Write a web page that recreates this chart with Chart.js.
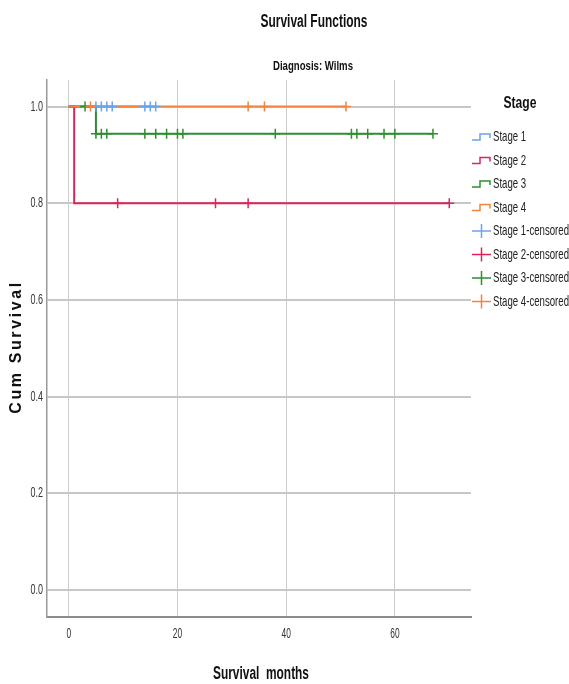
<!DOCTYPE html>
<html>
<head>
    <title>Survival Functions</title>
    <style>
        html, body { margin: 0; padding: 0; background: #ffffff; }
        #wrap { width: 569px; height: 684px; position: relative; }
    </style>
</head>
<body>
<div id="wrap">
    <canvas id="kmChart"></canvas>
</div>
<script src="https://cdn.jsdelivr.net/npm/chart.js"></script>
<script>
    // Kaplan-Meier steps (months, cumulative survival)
    const stageLabels = ["Stage 1", "Stage 2", "Stage 3", "Stage 4"];
    const stage1Times = [0, 16];
    const stage1Surv = [1, 1];
    const stage2Times = [0, 1, 70];
    const stage2Surv = [1, 0.8, 0.8];
    const stage3Times = [0, 5, 67];
    const stage3Surv = [1, 0.944, 0.944];
    const stage4Times = [0, 51];
    const stage4Surv = [1, 1];

    // censored cases (months)
    const stage1Censored = [5, 6, 7, 8, 14, 15, 16];
    const stage2Censored = [9, 27, 33, 70];
    const stage3Censored = [3, 5, 6, 7, 14, 16, 18, 20, 21, 38, 52, 53, 55, 58, 60, 67];
    const stage4Censored = [4, 33, 36, 51];

    const xTicks = [0, 20, 40, 60];
    const yTicks = [0, 0.2, 0.4, 0.6, 0.8, 1.0];

    const stageColors = ['#6aa3ee', '#e0245a', '#2f8f2f', '#f5823f'];
    const sans = '"Liberation Sans", Arial, sans-serif';

    function toPoints(times, surv) {
        return times.map((t, i) => ({x: t, y: surv[i]}));
    }

    // value of the step curve at time t
    function survAt(times, surv, t) {
        let v = surv[0];
        for (let i = 0; i < times.length; i++) {
            if (times[i] <= t) v = surv[i];
        }
        return v;
    }

    function censoredPoints(cens, times, surv) {
        return cens.map(t => ({x: t, y: survAt(times, surv, t)}));
    }

    const allTimes = [stage1Times, stage2Times, stage3Times, stage4Times];
    const allSurv = [stage1Surv, stage2Surv, stage3Surv, stage4Surv];
    const allCens = [stage1Censored, stage2Censored, stage3Censored, stage4Censored];
    // drawing order: lower numbers end up on top
    const lineOrder = [8, 7, 6, 5];
    const censOrder = [4, 3, 2, 1];

    const datasets = [];
    for (let i = 0; i < 4; i++) {
        datasets.push({
            label: stageLabels[i],
            censored: false,
            data: toPoints(allTimes[i], allSurv[i]),
            showLine: true,
            stepped: 'before',
            borderColor: stageColors[i],
            borderWidth: 2,
            pointRadius: 0,
            order: lineOrder[i]
        });
    }
    for (let i = 0; i < 4; i++) {
        datasets.push({
            label: stageLabels[i] + '-censored',
            censored: true,
            data: censoredPoints(allCens[i], allTimes[i], allSurv[i]),
            showLine: false,
            pointStyle: 'cross',
            pointRadius: 5,
            borderColor: stageColors[i],
            borderWidth: 1.5,
            order: censOrder[i]
        });
    }

    // no narrow font is installed, so squeeze text horizontally
    function squeezed(ctx, text, x, y, font, sx, align) {
        ctx.save();
        ctx.font = font;
        ctx.textAlign = align || 'center';
        ctx.textBaseline = 'middle';
        ctx.translate(x, y);
        ctx.scale(sx, 1);
        ctx.fillText(text, 0, 0);
        ctx.restore();
    }

    function fitWidth(ctx, text, font, width) {
        ctx.save();
        ctx.font = font;
        const w = ctx.measureText(text).width;
        ctx.restore();
        return width / w;
    }

    const decorPlugin = {
        id: 'decor',
        afterDraw(chart) {
            const ctx = chart.ctx;
            ctx.save();
            ctx.fillStyle = '#111';

            let f = 'bold 18px ' + sans;
            squeezed(ctx, 'Survival Functions', 314, 22, f, fitWidth(ctx, 'Survival Functions', f, 107));
            f = 'bold 13px ' + sans;
            squeezed(ctx, 'Diagnosis: Wilms', 313, 66, f, fitWidth(ctx, 'Diagnosis: Wilms', f, 80));

            // axis titles
            f = 'bold 18px ' + sans;
            squeezed(ctx, 'Survival  months', 261, 674, f, fitWidth(ctx, 'Survival  months', f, 96));
            ctx.save();
            ctx.font = 'bold 16px ' + sans;
            ctx.letterSpacing = '2.6px';
            ctx.textAlign = 'center';
            ctx.textBaseline = 'middle';
            ctx.translate(17, 347);
            ctx.rotate(-Math.PI / 2);
            ctx.fillText('Cum Survival', 0, 0);
            ctx.restore();

            // tick labels from the library's scales
            ctx.fillStyle = '#333';
            const tf = '15px ' + sans;
            const xs = chart.scales.x;
            xs.ticks.forEach(t => {
                squeezed(ctx, String(t.value), xs.getPixelForValue(t.value), 634, tf, 0.56);
            });
            const ys = chart.scales.y;
            ys.ticks.forEach(t => {
                squeezed(ctx, t.value.toFixed(1), 43, ys.getPixelForValue(t.value), tf, 0.6, 'right');
            });

            // legend
            ctx.fillStyle = '#111';
            f = 'bold 17px ' + sans;
            squeezed(ctx, 'Stage', 520, 103, f, fitWidth(ctx, 'Stage', f, 33));

            const lf = '15px ' + sans;
            const lsx = fitWidth(ctx, 'Stage 1-censored', lf, 76);
            chart.data.datasets.forEach((ds, i) => {
                const y = 137 + i * 23.5;
                const x0 = 472;
                ctx.strokeStyle = ds.borderColor;
                ctx.lineWidth = 1.5;
                ctx.beginPath();
                if (ds.censored) {
                    ctx.moveTo(x0, y);
                    ctx.lineTo(x0 + 19, y);
                    ctx.moveTo(x0 + 9.5, y - 7);
                    ctx.lineTo(x0 + 9.5, y + 7);
                } else {
                    ctx.moveTo(x0, y + 3);
                    ctx.lineTo(x0 + 8, y + 3);
                    ctx.lineTo(x0 + 8, y - 3);
                    ctx.lineTo(x0 + 18, y - 3);
                    ctx.lineTo(x0 + 18, y + 1);
                }
                ctx.stroke();
                ctx.fillStyle = '#222';
                squeezed(ctx, ds.label, x0 + 21, y, lf, lsx, 'left');
            });
            ctx.restore();
        }
    };

    const chartConfig = {
        type: 'scatter',
        data: {datasets: datasets},
        options: {
            responsive: true,
            maintainAspectRatio: false,
            animation: false,
            layout: {padding: {top: 80, right: 98, left: 0, bottom: 0}},
            plugins: {
                legend: {display: false},
                tooltip: {enabled: false}
            },
            scales: {
                x: {
                    type: 'linear',
                    min: -4,
                    max: 74,
                    afterFit: scale => { scale.height = 67; },
                    afterBuildTicks: scale => { scale.ticks = xTicks.map(v => ({value: v})); },
                    ticks: {display: false},
                    grid: {color: '#cccccc', lineWidth: 1, drawTicks: false},
                    border: {color: '#8c8c8c', width: 2}
                },
                y: {
                    type: 'linear',
                    min: -0.056,
                    max: 1.055,
                    afterFit: scale => { scale.width = 47; },
                    afterBuildTicks: scale => { scale.ticks = yTicks.map(v => ({value: v})); },
                    ticks: {display: false},
                    grid: {color: '#c8c8c8', lineWidth: 2, drawTicks: false},
                    border: {color: '#999999', width: 1.5}
                }
            }
        },
        plugins: [decorPlugin]
    };

    const canvas = document.getElementById('kmChart');
    const chart = new Chart(canvas, chartConfig);
</script>
</body>
</html>
